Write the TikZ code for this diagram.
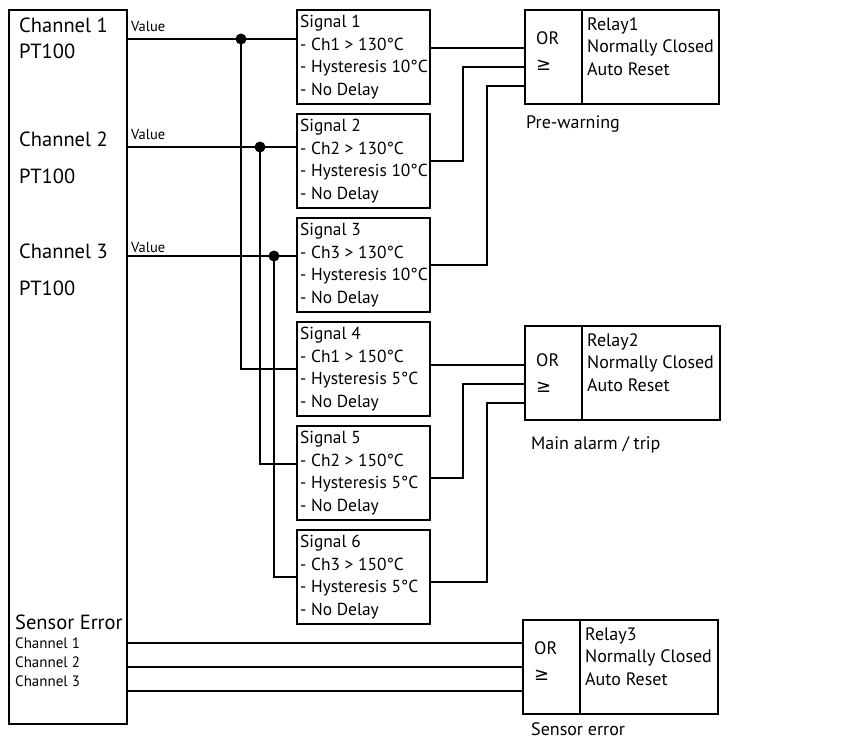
\documentclass[tikz,border=0pt]{standalone}
\usepackage{fontspec}
\setmainfont{PT Sans}
\newfontfamily\symfont{DejaVu Sans}
\usetikzlibrary{calc}
\tikzset{
  wire/.style={line width=2.4pt},
  box/.style={draw,line width=2.4pt,anchor=north west,inner sep=0pt,outer sep=0pt},
  sigbox/.style={box,minimum width=133,minimum height=94},
  sigtext/.style={anchor=west,align=left,inner sep=0pt,font=\fontsize{17.4}{22.6}\selectfont},
  lbl/.style={anchor=base west,inner sep=0pt,font=\fontsize{20.5}{24}\selectfont},
  txt/.style={anchor=base west,inner sep=0pt,font=\fontsize{18}{22}\selectfont},
  small/.style={anchor=base west,inner sep=0pt,font=\fontsize{15}{18}\selectfont},
  tiny/.style={anchor=base west,inner sep=0pt,font=\fontsize{14.5}{16}\selectfont}
}
\begin{document}
\begin{tikzpicture}[x=1pt,y=-1pt]
  \useasboundingbox[fill=white] (0,0) rectangle (866,740);
  \node[box,minimum width=118,minimum height=714] (chan) at (9,10) {};
  \foreach \c/\y/\p in {1/32/58,2/146/183,3/258/295} {
    \node[lbl] at (19,\y) {Channel \c};
    \node[lbl] at (19,\p) {PT100};
  }
  \node[lbl] at (15,629) {Sensor Error};
  \foreach \c/\y in {1/648,2/667,3/686}
    \node[small] at (15,\y) {Channel \c};
  \foreach \i/\c/\t/\h in {1/1/130/10,2/2/130/10,3/3/130/10,4/1/150/5,5/2/150/5,6/3/150/5} {
    \node[sigbox] (sig\i) at (297,{10+104*(\i-1)}) {};
    \node[sigtext] at ($(sig\i.west)+(3,0)$) {Signal \i\\- Ch\c{} > \t°C\\- Hysteresis \h°C\\- No Delay};
  }
  \foreach \i/\j/\y/\x/\e/\v in {1/4/39/241/369/31,2/5/147/260/464/139,3/6/256/274/577/252} {
    \node[tiny] at (131,\v) {Value};
    \draw[wire] (chan.east |- 0,\y) -- (sig\i.west |- 0,\y);
    \draw[wire] (\x,\y) |- (sig\j.west |- 0,\e);
    \fill (\x,\y) circle (5.5pt);
  }
  \foreach \r/\x/\y/\w/\o/\d/\b/\cap in {1/525/10/137/0/1/24/Pre-warning,2/525/326/138/6/6/29/{Main alarm / trip},3/523/620/138/0/8/21/Sensor error} {
    \node[box,minimum width=57,minimum height=94] (g\r) at (\x,\y) {};
    \node[box,minimum width=\w,minimum height=94] (r\r) at (g\r.north east) {};
    \node[txt] at ($(g\r.north west)+(11,34+\o)$) {OR};
    \node[anchor=base west,inner sep=0pt,font=\symfont\fontsize{18}{18}\selectfont] at ($(g\r.north west)+(11,60+\o)$) {≥};
    \node[txt] at ($(r\r.north west)+(5,20)$) {Relay\r};
    \node[txt] at ($(r\r.north west)+(5,42)$) {Normally Closed};
    \node[txt] at ($(r\r.north west)+(5,65)$) {Auto Reset};
    \node[txt] at ($(g\r.south west)+(\d,\b)$) {\cap};
  }
  \draw[wire] (sig1.east |- 0,48) -- (g1.west |- 0,48);
  \draw[wire] (sig2.east |- 0,161) -| (463,67) -- (g1.west |- 0,67);
  \draw[wire] (sig3.east |- 0,265) -| (487,86) -- (g1.west |- 0,86);
  \draw[wire] (sig4.east |- 0,365) -- (g2.west |- 0,365);
  \draw[wire] (sig5.east |- 0,478) -| (463,384) -- (g2.west |- 0,384);
  \draw[wire] (sig6.east |- 0,582) -| (487,403) -- (g2.west |- 0,403);
  \foreach \y in {643,667,691}
    \draw[wire] (chan.east |- 0,\y) -- (g3.west |- 0,\y);
\end{tikzpicture}
\end{document}
